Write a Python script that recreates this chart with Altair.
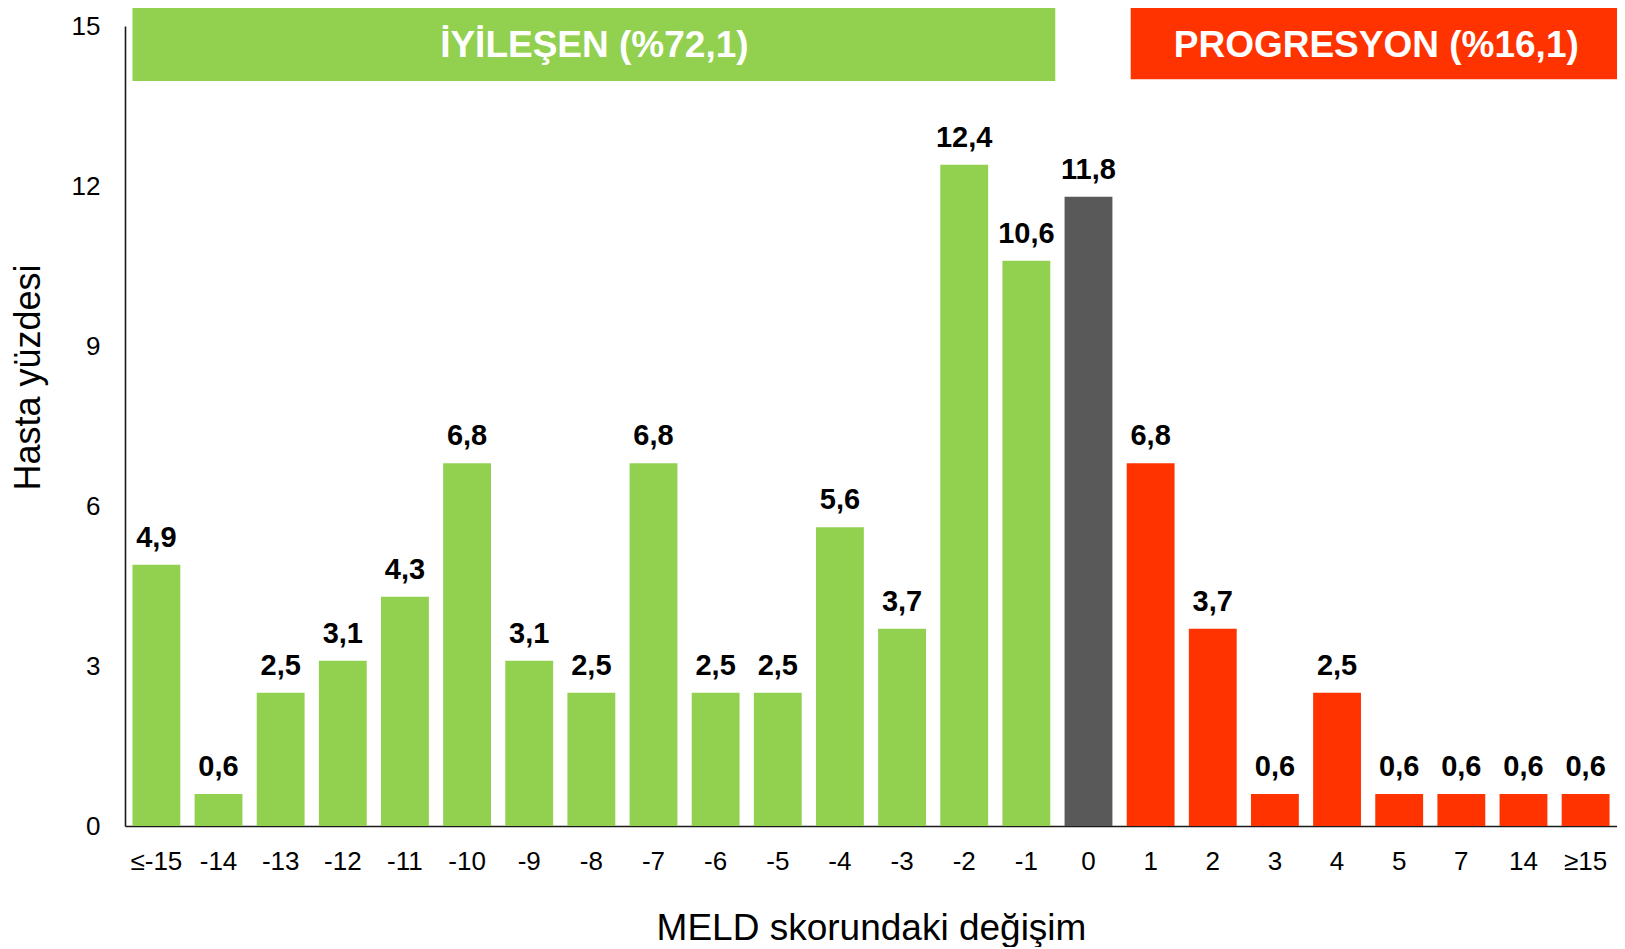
import altair as alt
import pandas as pd

categories = ["≤-15", "-14", "-13", "-12", "-11", "-10", "-9", "-8", "-7", "-6", "-5", "-4",
              "-3", "-2", "-1", "0", "1", "2", "3", "4", "5", "7", "14", "≥15"]
values = [4.9, 0.6, 2.5, 3.1, 4.3, 6.8, 3.1, 2.5, 6.8, 2.5, 2.5, 5.6,
          3.7, 12.4, 10.6, 11.8, 6.8, 3.7, 0.6, 2.5, 0.6, 0.6, 0.6, 0.6]
groups = ["iyi", "iyi", "iyi", "iyi", "iyi", "iyi", "iyi", "iyi", "iyi", "iyi", "iyi", "iyi",
          "iyi", "iyi", "iyi", "sabit", "prog", "prog", "prog", "prog", "prog", "prog", "prog", "prog"]

banner_labels = ["İYİLEŞEN (%72,1)", "PROGRESYON (%16,1)"]
banner_start = ["≤-15", "1"]
banner_end = ["-1", "≥15"]
banner_mid = ["-8", "5"]
banner_group = ["iyi", "prog"]

group_domain = ["iyi", "sabit", "prog"]
group_colors = ["#92D050", "#595959", "#FF3300"]

df = pd.DataFrame({"cat": categories, "val": values, "grp": groups})
bdf = pd.DataFrame({"label": banner_labels, "start": banner_start, "end": banner_end,
                    "mid": banner_mid, "grp": banner_group})

FONT = "Liberation Sans"

xscale = alt.Scale(domain=categories, paddingInner=0.23, paddingOuter=0.12)
yscale = alt.Scale(domain=[0, 15], nice=False, zero=True)
cscale = alt.Scale(domain=group_domain, range=group_colors)

xaxis = alt.Axis(title="MELD skorundaki değişim", labelAngle=0, ticks=False, tickSize=0,
                 labelPadding=22, labelFontSize=26, labelColor="#000000", labelOverlap=False,
                 titleFontSize=37, titleFontWeight="normal", titleColor="#000000",
                 titleY=113, titleBaseline="alphabetic",
                 domainColor="#1a1a1a", domainWidth=1.6, grid=False)
yaxis = alt.Axis(title="Hasta yüzdesi", values=[0, 3, 6, 9, 12, 15], format="d",
                 ticks=False, tickSize=0, labelPadding=25, labelFontSize=26,
                 labelColor="#000000", grid=False,
                 titleFontSize=36, titleFontWeight="normal", titleColor="#000000",
                 titleAngle=270, titleX=-86, titleY=351, titleAlign="center",
                 titleBaseline="alphabetic", domainColor="#1a1a1a", domainWidth=1.6)

base = alt.Chart(df)

bars = base.mark_bar().encode(
    x=alt.X("cat:N", scale=xscale, axis=xaxis, sort=categories),
    y=alt.Y("val:Q", scale=yscale, axis=yaxis),
    color=alt.Color("grp:N", scale=cscale, legend=None),
)

labels = base.mark_text(baseline="alphabetic", dy=-18, fontSize=29, fontWeight="bold",
                        color="#000000").transform_calculate(
    txt="replace(format(datum.val, '.1f'), '.', ',')"
).encode(
    x=alt.X("cat:N", scale=xscale, sort=categories),
    y=alt.Y("val:Q", scale=yscale),
    text="txt:N",
)

bbase = alt.Chart(bdf)

banner_green = bbase.transform_filter("datum.grp == 'iyi'").mark_rect(x2Offset=5).encode(
    x=alt.X("start:N", scale=xscale, sort=categories, bandPosition=0),
    x2=alt.X2("end", bandPosition=1),
    y=alt.datum(13.97),
    y2=alt.datum(15.34),
    color=alt.Color("grp:N", scale=cscale, legend=None),
)

banner_red = bbase.transform_filter("datum.grp == 'prog'").mark_rect(xOffset=4, x2Offset=8).encode(
    x=alt.X("start:N", scale=xscale, sort=categories, bandPosition=0),
    x2=alt.X2("end", bandPosition=1),
    y=alt.datum(14.0),
    y2=alt.datum(15.34),
    color=alt.Color("grp:N", scale=cscale, legend=None),
)

btext_green = bbase.transform_filter("datum.grp == 'iyi'").mark_text(
    fontSize=37, fontWeight="bold", color="#FFFFFF", baseline="middle", align="center", dx=3
).encode(
    x=alt.X("mid:N", scale=xscale, sort=categories, bandPosition=0.5),
    y=alt.datum(14.62),
    text="label:N",
)

btext_red = bbase.transform_filter("datum.grp == 'prog'").mark_text(
    fontSize=37, fontWeight="bold", color="#FFFFFF", baseline="middle", align="center", dx=1
).encode(
    x=alt.X("mid:N", scale=xscale, sort=categories, bandPosition=0),
    y=alt.datum(14.62),
    text="label:N",
)

chart = alt.layer(bars, labels, banner_green, banner_red, btext_green, btext_red).properties(
    width=1492, height=800,
    padding={"left": 117, "top": 18, "right": 0, "bottom": 121},
    autosize="none",
).configure(font=FONT).configure_view(strokeWidth=0)

chart.save("out.html", embed_options={"renderer": "svg", "actions": False})
